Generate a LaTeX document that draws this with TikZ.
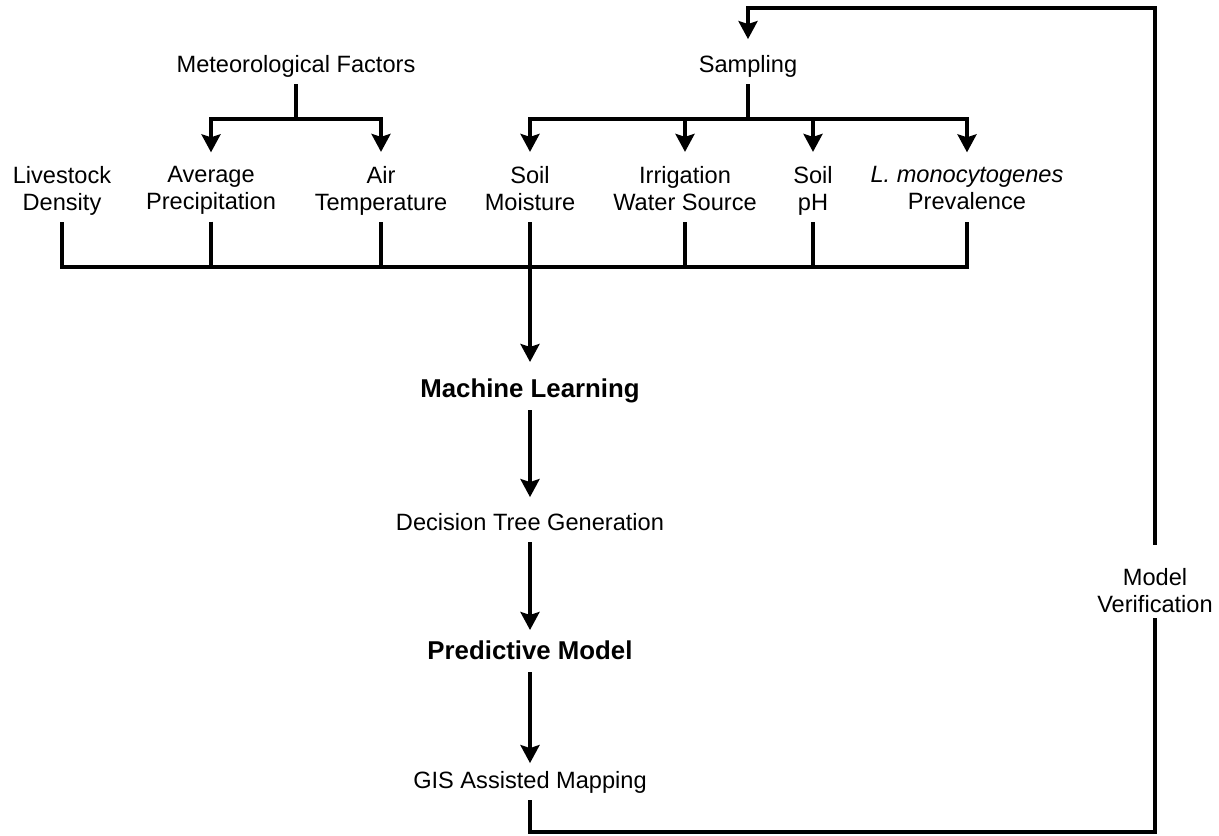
\documentclass[tikz,border=0pt]{standalone}
\usepackage{fontspec}
\setmainfont{Liberation Sans}
\usetikzlibrary{arrows.meta}
\tikzset{
    lbl/.style={align=center,inner sep=0pt,outer ysep=2pt,font=\fontsize{11.8}{13.5}\selectfont,
        execute at begin node=\strut,execute at end node=\strut},
    title/.style={lbl,font=\bfseries\fontsize{12.9}{15}\selectfont},
    line/.style={line width=1.8pt},
    arrow/.style={line,-{Stealth[length=9pt,width=9.5pt,inset=1.5pt]},shorten >=5pt}
}

\begin{document}
\begin{tikzpicture}[x=0.5pt,y=-0.5pt]
    \useasboundingbox (0,0) rectangle (1219,835);
    % sources
    \node[lbl] (met) at (296,66.6) {Meteorological Factors};
    \node[lbl] (samp) at (748,66.6) {Sampling};
    % factors
    \node[lbl] (live) at (62,192) {Livestock\\Density};
    \node[lbl] (prec) at (211,192) {Average\\Precipitation};
    \node[lbl] (air) at (381,192) {Air\\Temperature};
    \node[lbl] (moist) at (530,192) {Soil\\Moisture};
    \node[lbl] (irr) at (685,192) {Irrigation\\Water Source};
    \node[lbl] (ph) at (813,192) {Soil\\pH};
    \node[lbl] (lmono) at (967,192) {\textit{L. monocytogenes}\\Prevalence};
    % model chain
    \node[title] (ml) at (530,391) {Machine Learning};
    \node[lbl] (dtg) at (530,524.6) {Decision Tree Generation};
    \node[title] (pm) at (530,653) {Predictive Model};
    \node[lbl] (gis) at (530,782.6) {GIS Assisted Mapping};
    \node[lbl] (verif) at (1155,594.6) {Model\\Verification};
    \coordinate (metJ) at (296,119);
    \coordinate (sampJ) at (748,119);
    \coordinate (inbar) at (530,267);
    \coordinate (cBL) at (530,832);
    \coordinate (cBR) at (1155,832);
    \coordinate (cTR) at (1155,8);
    \coordinate (cTL) at (748,8);
    % branches
    \draw[line] (met) -- (metJ);
    \draw[arrow] (metJ) -| (prec);
    \draw[arrow] (metJ) -| (air);
    \draw[line] (samp) -- (sampJ);
    \foreach \n in {moist,irr,ph,lmono}
        \draw[arrow] (sampJ) -| (\n);
    % collecting bar
    \draw[line] (live) |- (inbar) -| (lmono);
    \foreach \n in {prec,air,moist,irr,ph}
        \draw[line] (\n) -- (\n |- inbar);
    \draw[arrow] (inbar) -- (ml);
    \draw[arrow] (ml) -- (dtg);
    \draw[arrow,shorten >=2pt] (dtg) -- (pm);
    \draw[arrow,shorten >=1pt] (pm) -- (gis);
    % feedback loop
    \draw[line,shorten >=-3.5pt] (gis) -- (cBL) -- (cBR) -- (verif);
    \draw[arrow,shorten <=10pt,shorten >=5pt] (verif) -- (cTR) -- (cTL) -- (samp);
\end{tikzpicture}
\end{document}
